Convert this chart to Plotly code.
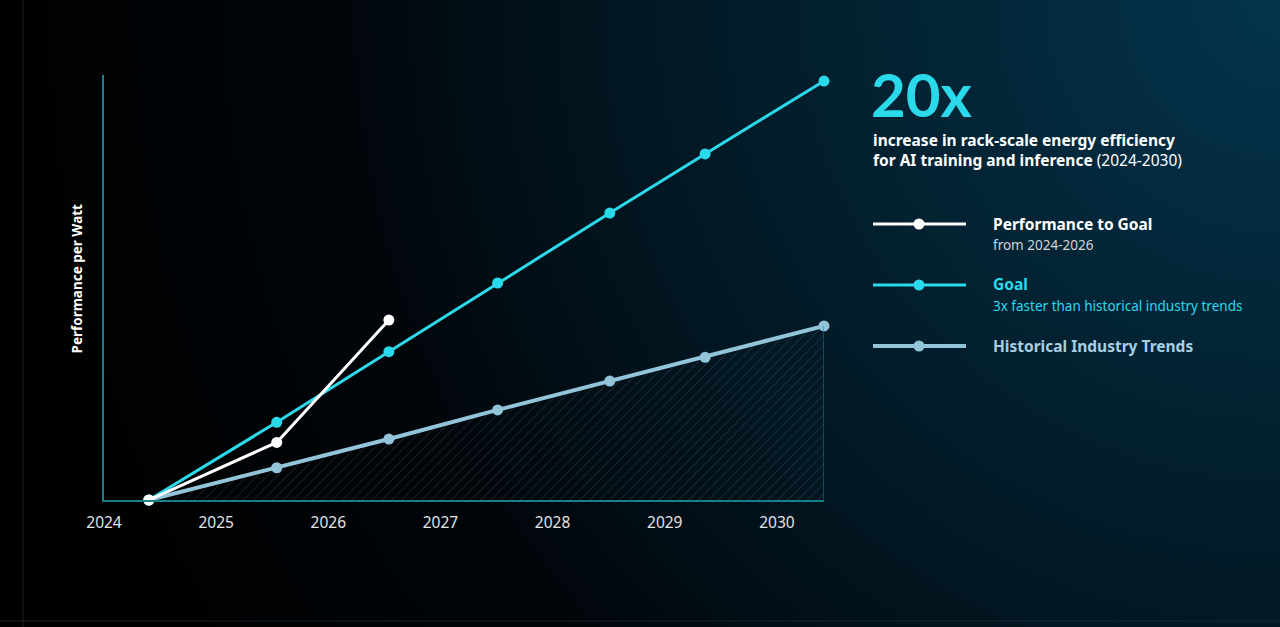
import base64

import plotly.graph_objects as go

# values (relative perf/watt, goal end = 20x)
years_goal = [2024.40, 2025.54, 2026.54, 2027.51, 2028.51, 2029.36, 2030.42]
goal_vals = [0, 3.71, 7.08, 10.36, 13.70, 16.52, 20.0]

years_hist = [2024.40, 2025.54, 2026.54, 2027.51, 2028.51, 2029.36, 2030.42]
hist_vals = [0, 1.54, 2.91, 4.30, 5.68, 6.81, 8.31]

years_perf = [2024.40, 2025.54, 2026.54]
perf_vals = [0, 2.75, 8.59]

tick_years = [2024, 2025, 2026, 2027, 2028, 2029, 2030]
tick_text = ["2024", "2025", "2026", "2027", "2028", "2029", "2030"]

W, H = 1280, 627
FONT = "Noto Sans"
CYAN = "#2ad9ea"
HIST = "#92c4da"
AXIS = "#1b7f88"


def px(x):
    return x / W


def py(y):
    return 1 - y / H


# background gradient (dark teal in top right fading to black)
svg = ('<svg xmlns="http://www.w3.org/2000/svg" width="1280" height="627">'
       '<defs><radialGradient id="g" gradientUnits="userSpaceOnUse" cx="1280" cy="0" r="1300">'
       '<stop offset="0" stop-color="#04344c"/><stop offset="0.5" stop-color="#021722"/>'
       '<stop offset="0.72" stop-color="#01060b"/><stop offset="1" stop-color="#000000"/>'
       '</radialGradient></defs><rect width="1280" height="627" fill="url(#g)"/></svg>')
bg_src = "data:image/svg+xml;base64," + base64.b64encode(svg.encode()).decode()

fig = go.Figure()

fig.add_trace(go.Scatter(
    x=years_hist, y=hist_vals, mode="lines+markers", fill="tozeroy",
    fillcolor="rgba(0,0,0,0)",
    fillpattern=dict(shape="/", size=7, solidity=0.14,
                     fgcolor="rgba(130,150,160,0.5)", bgcolor="rgba(0,0,0,0)"),
    line=dict(color=HIST, width=4), marker=dict(size=11, color=HIST),
    cliponaxis=False, showlegend=False, hoverinfo="skip"))

fig.add_trace(go.Scatter(
    x=years_goal, y=goal_vals, mode="lines+markers",
    line=dict(color=CYAN, width=3), marker=dict(size=11, color=CYAN),
    cliponaxis=False, showlegend=False))

fig.add_trace(go.Scatter(
    x=years_perf, y=perf_vals, mode="lines+markers",
    line=dict(color="white", width=3), marker=dict(size=11, color="white"),
    cliponaxis=False, showlegend=False))

shapes = [
    # right edge of the hatched area
    dict(type="line", xref="x", yref="y", x0=years_hist[-1], x1=years_hist[-1],
         y0=0, y1=hist_vals[-1], line=dict(color=AXIS, width=1)),
    # faint slide edges
    dict(type="line", xref="paper", yref="paper", x0=px(23), x1=px(23), y0=0, y1=1,
         line=dict(color="rgba(70,80,90,0.35)", width=1)),
    dict(type="line", xref="paper", yref="paper", x0=0, x1=1, y0=py(621), y1=py(621),
         line=dict(color="rgba(70,80,90,0.35)", width=1)),
]

# hand drawn legend
legend_rows = [(224, "white", 3), (285, CYAN, 3), (346, HIST, 4)]
for ly, col, lw in legend_rows:
    shapes.append(dict(type="line", xref="paper", yref="paper", x0=px(873), x1=px(966),
                       y0=py(ly), y1=py(ly), line=dict(color=col, width=lw)))
    shapes.append(dict(type="circle", xref="paper", yref="paper",
                       x0=px(913.5), x1=px(924.5), y0=py(ly - 5.5), y1=py(ly + 5.5),
                       fillcolor=col, line=dict(width=0)))

annotations = [
    dict(text="<b>20x</b>", x=px(869), y=py(132), yanchor="bottom",
         font=dict(size=60, color=CYAN, family="Lato")),
    dict(text="<b>increase in rack-scale energy efficiency</b><br>"
              "<b>for AI training and inference</b> (2024-2030)",
         x=px(871), y=py(149.5), align="left", font=dict(size=15.5, color="white")),
    dict(text="<b>Performance to Goal</b>", x=px(991), y=py(224),
         font=dict(size=15.5, color="white")),
    dict(text="from 2024-2026", x=px(991), y=py(245), font=dict(size=13.5, color="#d4d6d8")),
    dict(text="<b>Goal</b>", x=px(991), y=py(284), font=dict(size=15.5, color=CYAN)),
    dict(text="3x faster than historical industry trends", x=px(991), y=py(306),
         font=dict(size=13.5, color=CYAN)),
    dict(text="<b>Historical Industry Trends</b>", x=px(991), y=py(346),
         font=dict(size=15.5, color="#a8cfe0")),
]
for a in annotations:
    a.setdefault("yanchor", "middle")
    a.update(xref="paper", yref="paper", xanchor="left", showarrow=False)

annotations.append(dict(text="<b>Performance per Watt</b>", x=px(76.5), y=py(279),
                        xref="paper", yref="paper", textangle=-90, showarrow=False,
                        xanchor="center", yanchor="middle",
                        font=dict(size=13.5, color="white")))

fig.update_layout(
    width=W, height=H,
    margin=dict(l=0, r=0, t=0, b=0, autoexpand=False),
    paper_bgcolor="black", plot_bgcolor="rgba(0,0,0,0)",
    font=dict(family=FONT, color="white"),
    images=[dict(source=bg_src, xref="paper", yref="paper", x=0, y=1, sizex=1, sizey=1,
                 sizing="stretch", layer="below", xanchor="left", yanchor="top")],
    shapes=shapes, annotations=annotations,
    xaxis=dict(domain=[px(104), px(824)], range=[2024, 2030.42], automargin=False,
               tickvals=tick_years, ticktext=tick_text, ticks="",
               showgrid=False, zeroline=False, showline=True, linecolor=AXIS, linewidth=2,
               tickfont=dict(size=15.5, color="#e2e4e6"), ticklabelstandoff=7),
    yaxis=dict(domain=[py(500), py(75)], range=[0, 20.29], automargin=False,
               showticklabels=False, ticks="", showgrid=False, zeroline=False,
               showline=True, linecolor=AXIS, linewidth=2),
    hovermode=False,
)

fig.write_html("out.html", config={"displayModeBar": False},
               post_script="document.body.style.margin='0';document.body.style.overflow='hidden';")
